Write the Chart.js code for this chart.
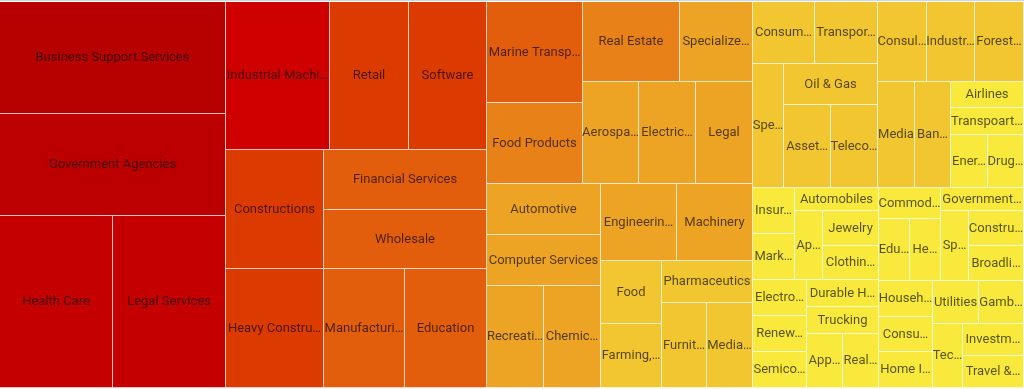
<!DOCTYPE html>
<html>
<head>
<meta charset="utf-8">
<title>Companies by industry</title>
<script src="https://cdn.jsdelivr.net/npm/chart.js@4.4.1/dist/chart.umd.min.js"></script>
<style>
  html, body { margin: 0; padding: 0; background: #fff; }
  #wrap { width: 1024px; height: 388px; border-top: 1px solid #d6d6d6; }
  #chart { display: block; }
</style>
</head>
<body>
<div id="wrap"><canvas id="chart" width="1024" height="388"></canvas></div>
<script>
// industries and the number of companies in each
var industries = [
    'Business Support Services', 'Government Agencies', 'Health Care', 'Legal Services',
    'Industrial Machinery', 'Retail', 'Software', 'Constructions', 'Financial Services', 'Wholesale',
    'Heavy Construction', 'Manufacturing', 'Education',
    'Marine Transportation', 'Food Products', 'Real Estate', 'Specialized Consumer Services',
    'Aerospace & Defense', 'Electrical Equipment', 'Legal',
    'Automotive', 'Computer Services', 'Recreational Services', 'Chemicals',
    'Engineering & Construction', 'Machinery', 'Food', 'Farming, Fishing & Plantations',
    'Pharmaceutics', 'Furniture', 'Media & Entertainment',
    'Consumer Services', 'Transportation', 'Specialty Retail', 'Oil & Gas', 'Asset Management', 'Telecommunications',
    'Consulting', 'Industrial Goods', 'Forest Products', 'Media', 'Banking', 'Airlines', 'Transpoartation Services', 'Energy', 'Drug Manufacturers',
    'Insurance', 'Marketing', 'Automobiles', 'Apparel', 'Jewelry', 'Clothing & Accessories',
    'Electronics', 'Renewable Energy', 'Semiconductors', 'Durable Household Products', 'Trucking', 'App Development', 'Real Estate Services',
    'Commodity Chemicals', 'Educational Services', 'Healthcare Facilities', 'Government Services', 'Sports', 'Construction Materials', 'Broadline Retail',
    'Household Products', 'Consumer Finance', 'Home Improvement', 'Utilities', 'Gambling', 'Technology', 'Investment Banking', 'Travel & Leisure'
];
var companies = [
    13, 12, 10, 10,
    8, 6, 6, 6, 5, 5,
    6, 5, 5,
    5, 4, 4, 3,
    3, 3, 3,
    3, 3, 3, 3,
    3, 3, 2, 2,
    2, 2, 2,
    2, 2, 2, 2, 2, 2,
    2, 2, 2, 2, 2, 1, 1, 1, 1,
    1, 1, 1, 1, 1, 1,
    1, 1, 1, 1, 1, 1, 1,
    1, 1, 1, 1, 1, 1, 1,
    1, 1, 1, 1, 1, 1, 1, 1
];

// how the industries are grouped (each level is cut the other way: columns, rows, columns ...)
var groups = [
    ['Business Support Services', 'Government Agencies', ['Health Care', 'Legal Services']],
    [
        ['Industrial Machinery', 'Retail', 'Software'],
        ['Constructions', ['Financial Services', 'Wholesale']],
        ['Heavy Construction', 'Manufacturing', 'Education']
    ],
    [
        [['Marine Transportation', 'Food Products'],
         [['Real Estate', 'Specialized Consumer Services'], ['Aerospace & Defense', 'Electrical Equipment', 'Legal']]],
        [['Automotive', 'Computer Services', ['Recreational Services', 'Chemicals']],
         [['Engineering & Construction', 'Machinery'],
          [['Food', 'Farming, Fishing & Plantations'], ['Pharmaceutics', ['Furniture', 'Media & Entertainment']]]]]
    ],
    [
        [
            [['Consumer Services', 'Transportation'], ['Specialty Retail', ['Oil & Gas', ['Asset Management', 'Telecommunications']]]],
            [['Consulting', 'Industrial Goods', 'Forest Products'], ['Media', 'Banking', ['Airlines', 'Transpoartation Services', ['Energy', 'Drug Manufacturers']]]]
        ],
        [
            [
                [['Insurance', 'Marketing'], ['Automobiles', ['Apparel', ['Jewelry', 'Clothing & Accessories']]]],
                [['Electronics', 'Renewable Energy', 'Semiconductors'], ['Durable Household Products', 'Trucking', ['App Development', 'Real Estate Services']]]
            ],
            [
                [['Commodity Chemicals', ['Educational Services', 'Healthcare Facilities']], ['Government Services', ['Sports', ['Construction Materials', 'Broadline Retail']]]],
                [['Household Products', 'Consumer Finance', 'Home Improvement'], [['Utilities', 'Gambling'], ['Technology', ['Investment Banking', 'Travel & Leisure']]]]
            ]
        ]
    ]
];

// colour scale: few companies = yellow, many = dark red
var colorStops = [
    [1, [248, 233, 60]],
    [6, [220, 59, 0]],
    [8, [207, 0, 0]],
    [13, [183, 0, 0]]
];

function shade(v) {
    var s = colorStops;
    if (v <= s[0][0]) return 'rgb(' + s[0][1].join(',') + ')';
    for (var i = 1; i < s.length; i++) {
        if (v <= s[i][0]) {
            var t = (v - s[i - 1][0]) / (s[i][0] - s[i - 1][0]);
            var c = s[i - 1][1].map(function (a, k) { return Math.round(a + (s[i][1][k] - a) * t); });
            return 'rgb(' + c.join(',') + ')';
        }
    }
    return 'rgb(' + s[s.length - 1][1].join(',') + ')';
}

// slice and dice layout in a 0..1 box, the scales turn it into pixels
function layoutTree(tree, labels, values) {
    var boxes = [];
    function total(node) {
        if (typeof node === 'string') return values[labels.indexOf(node)];
        return node.reduce(function (s, n) { return s + total(n); }, 0);
    }
    function place(node, x0, y0, x1, y1, depth) {
        if (typeof node === 'string') {
            boxes[labels.indexOf(node)] = {x0: x0, y0: y0, x1: x1, y1: y1};
            return;
        }
        var sum = total(node);
        var pos = depth % 2 === 0 ? x0 : y0;
        node.forEach(function (child) {
            var share = total(child) / sum;
            if (depth % 2 === 0) {
                var w = (x1 - x0) * share;
                place(child, pos, y0, pos + w, y1, depth + 1);
                pos += w;
            } else {
                var h = (y1 - y0) * share;
                place(child, x0, pos, x1, pos + h, depth + 1);
                pos += h;
            }
        });
    }
    place(tree, 0, 0, 1, 1, 0);
    return boxes;
}

function fitText(ctx, text, maxWidth) {
    if (ctx.measureText(text).width <= maxWidth) return text;
    for (var n = text.length - 1; n > 0; n--) {
        var cut = text.slice(0, n).replace(/\s+$/, '') + '\u2026';
        if (ctx.measureText(cut).width <= maxWidth) return cut;
    }
    return '';
}

class CellElement extends Chart.Element {
    draw(ctx) {
        var o = this.options;
        var l = Math.round(this.x), t = Math.round(this.y);
        var r = Math.round(this.x + this.width), b = Math.round(this.y + this.height);
        var bw = o.borderWidth;
        ctx.save();
        ctx.fillStyle = o.backgroundColor;
        ctx.fillRect(l, t, r - l, b - t);
        // thin light line on the right and bottom of every cell
        ctx.fillStyle = o.borderColor;
        ctx.fillRect(r - bw, t, bw, b - t);
        ctx.fillRect(l, b - bw, r - l - bw, bw);
        ctx.font = o.labelFont;
        ctx.fillStyle = o.labelColor;
        ctx.textAlign = 'center';
        ctx.textBaseline = 'middle';
        var text = fitText(ctx, this.label, this.width + 0.5);
        if (text) ctx.fillText(text, (l + r - bw) / 2, (t + b - bw) / 2 + 0.5);
        ctx.restore();
    }
    inRange(mx, my) {
        return mx >= this.x && mx <= this.x + this.width && my >= this.y && my <= this.y + this.height;
    }
    inXRange(mx) { return mx >= this.x && mx <= this.x + this.width; }
    inYRange(my) { return my >= this.y && my <= this.y + this.height; }
    getCenterPoint() { return {x: this.x + this.width / 2, y: this.y + this.height / 2}; }
    tooltipPosition() { return this.getCenterPoint(); }
    getRange(axis) { return axis === 'x' ? this.width / 2 : this.height / 2; }
}
CellElement.id = 'cell';
CellElement.defaults = {
    backgroundColor: '#ccc',
    borderColor: 'rgba(255,255,255,0.75)',
    borderWidth: 1,
    labelColor: 'rgba(0,0,0,0.65)',
    labelFont: '13px Roboto'
};

class TreemapController extends Chart.DatasetController {
    parse(start, count) {
        var meta = this._cachedMeta, data = this.getDataset().data;
        for (var i = start; i < start + count; i++) meta._parsed[i] = {x: i, y: data[i]};
    }
    update(mode) {
        var meta = this._cachedMeta;
        this.updateElements(meta.data, 0, meta.data.length, mode);
    }
    updateElements(cells, start, count, mode) {
        var meta = this._cachedMeta;
        var xScale = meta.xScale, yScale = meta.yScale;
        var ds = this.getDataset();
        var labels = this.chart.data.labels;
        var boxes = layoutTree(ds.tree, labels, ds.data);
        for (var i = start; i < start + count; i++) {
            var bx = boxes[i];
            if (!bx) continue;
            var left = xScale.getPixelForValue(bx.x0), right = xScale.getPixelForValue(bx.x1);
            var top = yScale.getPixelForValue(bx.y0), bottom = yScale.getPixelForValue(bx.y1);
            this.updateElement(cells[i], i, {
                x: left,
                y: top,
                width: right - left,
                height: bottom - top,
                label: labels[i],
                options: this.resolveDataElementOptions(i, mode)
            }, mode);
        }
    }
    getLabelAndValue(index) {
        return {label: this.chart.data.labels[index], value: String(this.getDataset().data[index])};
    }
}
TreemapController.id = 'treemap';
TreemapController.defaults = {datasetElementType: false, dataElementType: 'cell'};
TreemapController.overrides = {};

Chart.register(CellElement, TreemapController);

function drawChart() {
    try {
        var ctx = document.getElementById('chart').getContext('2d');
        new Chart(ctx, {
            type: 'treemap',
            data: {
                labels: industries,
                datasets: [{
                    label: 'Companies',
                    data: companies,
                    tree: groups,
                    backgroundColor: function (c) { return shade(c.raw); },
                    borderColor: 'rgba(255,255,255,0.75)',
                    borderWidth: 1
                }]
            },
            options: {
                responsive: false,
                animation: false,
                layout: {padding: {top: 1, bottom: 1, left: 0, right: 0}},
                scales: {
                    x: {type: 'linear', min: 0, max: 1, display: false},
                    y: {type: 'linear', min: 0, max: 1, reverse: true, display: false}
                },
                plugins: {
                    legend: {display: false}
                }
            }
        });
    } catch (e) {
        console.log('We have encountered an error: ' + e);
    }
}

if (document.fonts && document.fonts.load) {
    document.fonts.load('13px Roboto').then(drawChart, drawChart);
} else {
    drawChart();
}
</script>
</body>
</html>
